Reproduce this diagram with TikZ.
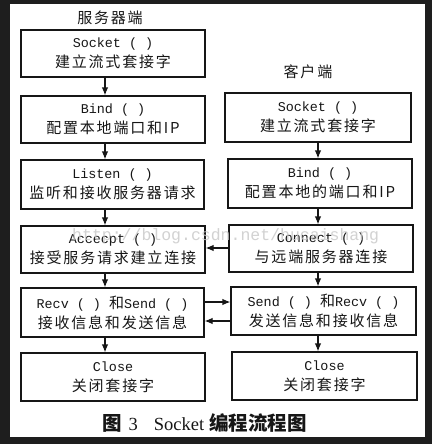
\documentclass[tikz,border=0pt]{standalone}
\usepackage{fontspec}
\usetikzlibrary{arrows.meta}
\setmainfont{Liberation Serif}
\newfontfamily\cjk[LetterSpace=12]{Noto Sans CJK SC}
\newfontfamily\cjkcap{Noto Sans CJK SC}
\newfontfamily\mono{Liberation Mono}
\definecolor{ink}{HTML}{161616}
\definecolor{frame}{HTML}{1E1E1E}
\newcommand\lat[1]{{\mono\fontsize{13.4}{20}\selectfont #1}}
\newcommand\zh[1]{{\cjk\fontsize{15}{20}\selectfont #1}}
\begin{document}
\begin{tikzpicture}[x=1pt,y=-1pt]
\tikzset{
  bx/.style={draw=ink, line width=1.2pt, inner sep=0pt, align=center, text=ink,
             font=\fontsize{13}{20}\selectfont},
  arr/.style={draw=ink, line width=1.2pt, -{Latex[length=8pt,width=6.5pt]}},
  ttl/.style={text=ink, inner sep=0pt, font=\cjk\fontsize{15}{18}\selectfont},
}
\fill[frame] (0,0) rectangle (432,444);
\fill[white] (10,4) rectangle (425,437);
\useasboundingbox (0,0) rectangle (432,444);

% titles
\node[ttl] (tserver) at (110,18) {服务器端};
\node[ttl] (tclient) at (308,72) {客户端};

% left column
\node[bx, minimum width=184pt, minimum height=47pt] (lsock) at (113,53.5) {\lat{Socket ( )}\\\zh{建立流式套接字}};
\node[bx, minimum width=184pt, minimum height=47pt] (lbind) at (113,119.5) {\lat{Bind ( )}\\\zh{配置本地端口和IP}};
\node[bx, minimum width=183pt, minimum height=49pt] (llist) at (112.5,184.5) {\lat{Listen ( )}\\\zh{监听和接收服务器请求}};
\node[bx, minimum width=184pt, minimum height=47pt] (lacc) at (113,249.5) {\lat{Accecpt ( )}\\\zh{接受服务请求建立连接}};
\node[bx, minimum width=183pt, minimum height=49pt] (lrecv) at (112.5,312.5) {\lat{Recv ( ) }\zh{和}\lat{Send ( )}\\\zh{接收信息和发送信息}};
\node[bx, minimum width=184pt, minimum height=48pt] (lclose) at (113,377) {\lat{Close}\\\zh{关闭套接字}};

% right column
\node[bx, minimum width=186pt, minimum height=49pt] (rsock) at (318,117.5) {\lat{Socket ( )}\\\zh{建立流式套接字}};
\node[bx, minimum width=184pt, minimum height=49pt] (rbind) at (320,183.5) {\lat{Bind ( )}\\\zh{配置本地的端口和IP}};
\node[bx, minimum width=184pt, minimum height=47pt] (rconn) at (321,248.5) {\lat{Connect ( )}\\\zh{与远端服务器连接}};
\node[bx, minimum width=185pt, minimum height=48pt] (rsend) at (323.5,311) {\lat{Send ( ) }\zh{和}\lat{Recv ( )}\\\zh{发送信息和接收信息}};
\node[bx, minimum width=185pt, minimum height=48pt] (rclose) at (324.5,376) {\lat{Close}\\\zh{关闭套接字}};

% vertical arrows
\coordinate (lx) at (105,0);
\coordinate (rx) at (318,0);
\draw[arr] (lsock.south -| lx) -- (lbind.north -| lx);
\draw[arr] (lbind.south -| lx) -- (llist.north -| lx);
\draw[arr] (llist.south -| lx) -- (lacc.north -| lx);
\draw[arr] (lacc.south -| lx) -- (lrecv.north -| lx);
\draw[arr] (lrecv.south -| lx) -- (lclose.north -| lx);
\draw[arr] (rsock.south -| rx) -- (rbind.north -| rx);
\draw[arr] (rbind.south -| rx) -- (rconn.north -| rx);
\draw[arr] (rconn.south -| rx) -- (rsend.north -| rx);
\draw[arr] (rsend.south -| rx) -- (rclose.north -| rx);

% horizontal arrows
\coordinate (hy1) at (0,248);
\coordinate (hy2) at (0,302);
\coordinate (hy3) at (0,321);
\draw[arr] (rconn.west |- hy1) -- (lacc.east |- hy1);
\draw[arr] (lrecv.east |- hy2) -- (rsend.west |- hy2);
\draw[arr] (rsend.west |- hy3) -- (lrecv.east |- hy3);

% watermark
\node[text=black!22, opacity=0.8, inner sep=0pt, anchor=west, font=\mono\fontsize{16.5}{18}\selectfont] (wm) at (72,236) {http://blog.csdn.net/hucaishang};

% caption
\node[text=ink, inner sep=0pt, anchor=west, font=\fontsize{18.5}{20}\selectfont] (cap) at (102,423)
  {{\cjkcap\fontsize{19.5}{20}\selectfont\bfseries 图}\hspace{7pt}3\hspace{16pt}Socket\hspace{5pt}{\cjkcap\fontsize{19.5}{20}\selectfont\bfseries 编程流程图}};
\end{tikzpicture}
\end{document}
